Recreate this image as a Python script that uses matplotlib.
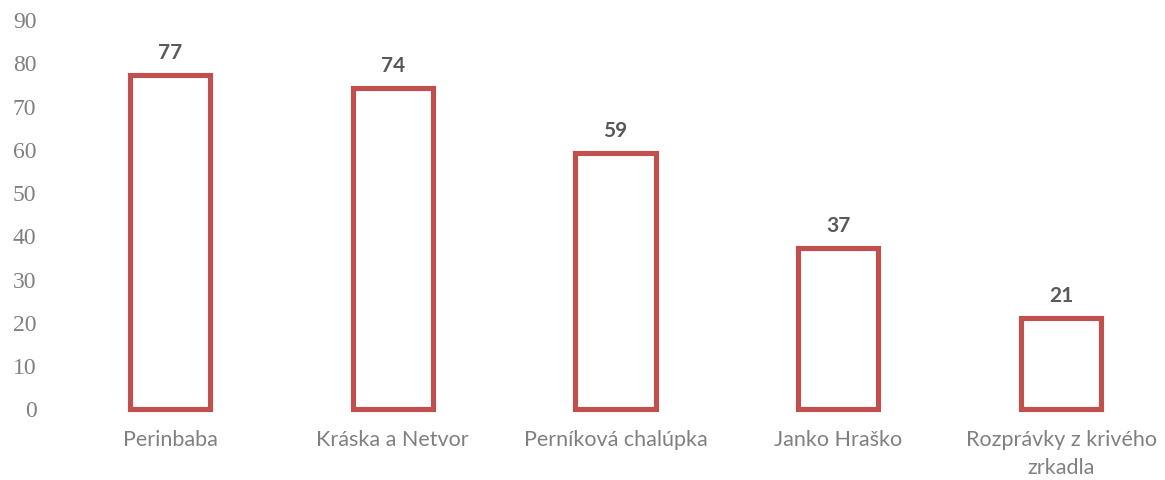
import matplotlib
matplotlib.use("Agg")
import matplotlib.pyplot as plt

titles = ["Perinbaba", "Kráska a Netvor", "Perníková chalúpka", "Janko Hraško",
          "Rozprávky z krivého\nzrkadla"]
votes = [77, 74, 59, 37, 21]
yticks = [0, 10, 20, 30, 40, 50, 60, 70, 80, 90]

W, H = 1165, 481
fig = plt.figure(figsize=(W / 100, H / 100), dpi=100)
# axes placed in pixels: first category centre ~170px, spacing ~222.75px
left = 170 - 222.75 * 0.5
ax = fig.add_axes([left / W, (H - 409.5) / H, (W - left) / W, (409.5 - 20) / H])

x = list(range(len(titles)))
bars = ax.bar(x, votes, width=0.36, facecolor="white", edgecolor="#C0504D",
              linewidth=3.7, clip_on=False)
for b, v in zip(bars, votes):
    ax.text(b.get_x() + b.get_width() / 2, v + 3.0, str(v), ha="center", va="bottom",
            fontsize=15, fontweight="bold", color="#595959", family="Lato")

ax.set_xlim(-0.5, (W - 170) / 222.75)
ax.set_ylim(0, 90)
ax.set_yticks(yticks)
ax.set_yticklabels([str(t) for t in yticks], family="Liberation Serif",
                   fontsize=17, color="#808080")
ax.set_xticks(x)
ax.set_xticklabels(titles, family="Lato", fontsize=15.5, color="#808080",
                   linespacing=1.45)
ax.tick_params(axis="y", length=0, pad=16)
ax.tick_params(axis="x", length=0, pad=15)
for s in ax.spines.values():
    s.set_visible(False)

fig.savefig("out.png", dpi=100)
